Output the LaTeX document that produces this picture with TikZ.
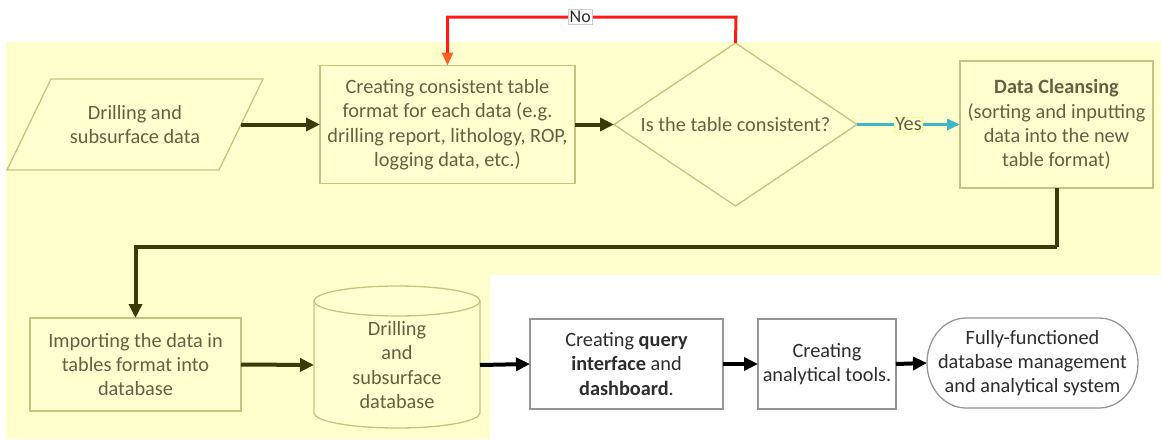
\documentclass[tikz,border=0pt]{standalone}
\usepackage{fontspec}
\setmainfont{Carlito}
\usetikzlibrary{arrows.meta,shapes.geometric}

\definecolor{bgyel}{RGB}{255,255,206}
\definecolor{shapeyel}{RGB}{255,255,208}
\definecolor{olivedge}{RGB}{196,196,128}
\definecolor{olivetext}{RGB}{98,98,66}
\definecolor{olivearrow}{RGB}{58,58,8}
\definecolor{greyedge}{RGB}{150,150,150}
\definecolor{darktext}{RGB}{45,45,45}
\definecolor{noline}{RGB}{255,25,25}
\definecolor{nohead}{RGB}{255,95,35}
\definecolor{yesline}{RGB}{62,184,200}
\definecolor{noedge}{RGB}{205,205,205}
\definecolor{yesedge}{RGB}{250,250,150}

\begin{document}
\begin{tikzpicture}[x=1pt,y=-1pt,
  every node/.style={font=\fontsize{20.3}{24.4}\selectfont, align=center,
                     inner sep=0pt, outer sep=0pt},
  ybox/.style={draw=olivedge, fill=shapeyel, line width=1.3pt, text=olivetext},
  wbox/.style={draw=greyedge, fill=white, line width=1.3pt, text=darktext},
  ytext/.style={text=olivetext},
  wtext/.style={text=darktext},
  flow/.style={draw=olivearrow, line width=4pt, -{Triangle[length=14pt,width=13pt]}},
  flowline/.style={draw=olivearrow, line width=4pt},
  blackflow/.style={draw=black, line width=4pt, -{Triangle[length=14pt,width=13pt]}},
  noarrow/.style={draw=noline, line width=3pt, -{Triangle[length=13pt,width=11pt,color=nohead]}},
  yesarrow/.style={draw=yesline, line width=3pt, -{Triangle[length=13pt,width=11pt]}},
  nolab/.style={draw=noedge, line width=0.8pt, fill=white, text=darktext, inner sep=1.5pt,
                font=\fontsize{18}{20}\selectfont},
  yeslab/.style={draw=yesedge, line width=0.8pt, fill=bgyel, text=olivetext, inner sep=1pt},
]
\useasboundingbox (0,0) rectangle (1161,439);

% pale yellow backdrop behind the first five steps
\fill[bgyel] (6,42) -- (1161,42) -- (1161,275) -- (490,275) -- (490,439) -- (6,439) -- cycle;

% input data (parallelogram)
\draw[ybox] (7,170) -- (51,79) -- (263,79) -- (219,170) -- cycle;
\node[ytext, minimum width=212, minimum height=91] (src) at (135,124.5)
  {Drilling and\\subsurface data};

% consistent table format
\node[ybox, minimum width=255, minimum height=118] (cre) at (447.5,124.5)
  {Creating consistent table\\format for each data (e.g.\\drilling report, lithology, ROP,\\logging data, etc.)};

% decision
\node[ybox, diamond, aspect=1.49, minimum width=243, minimum height=163] (dia) at (735.5,124.5)
  {Is the table consistent?};

% data cleansing
\node[ybox, minimum width=193, minimum height=127] (dcl) at (1056.5,124.5)
  {\textbf{Data Cleansing}\\(sorting and inputting\\data into the new\\table format)};

% import step
\node[ybox, minimum width=211, minimum height=93] (imp) at (135.5,364.5)
  {Importing the data in\\tables format into\\database};

% database (cylinder)
\draw[ybox] (314,301) -- (314,413)
  arc[start angle=180, end angle=0, x radius=83, y radius=15]
  -- (480,301)
  arc[start angle=0, end angle=-180, x radius=83, y radius=15] -- cycle;
\draw[draw=olivedge, line width=1.3pt] (314,301)
  arc[start angle=180, end angle=0, x radius=83, y radius=15];
\node[ytext, minimum width=166, minimum height=100] (cyl) at (397,365)
  {Drilling\\and\\subsurface\\database};

% query interface
\node[wbox, minimum width=193, minimum height=90] (qry) at (626.5,364)
  {Creating \textbf{query}\\\textbf{interface} and\\\textbf{dashboard}.};

% analytical tools
\node[wbox, minimum width=138, minimum height=90] (ana) at (827,364)
  {Creating\\analytical tools.};

% final system (terminal)
\draw[wbox] (966,318) -- (1099,318)
  arc[start angle=-90, end angle=90, x radius=39, y radius=45]
  -- (966,408)
  arc[start angle=90, end angle=270, x radius=39, y radius=45] -- cycle;
\node[wtext, minimum width=211, minimum height=90] (ful) at (1032.5,363)
  {Fully-functioned\\database management\\and analytical system};

% connectors
\draw[flow] (src.east) -- (cre.west);
\draw[flow] (cre.east) -- (dia.west);
\draw[yesarrow] (dia.east) -- node[yeslab] (yes) {Yes} (dcl.west);
\coordinate (nbend) at (736,17);
\draw[noarrow] (dia.north) -- (nbend) -| node[nolab, pos=0.27] (no) {No} (cre.north);
\coordinate (rbend) at (1056.5,247);
\draw[flowline] (dcl.south) -- (rbend);
\draw[flow] (rbend) -| (imp.north);
\draw[flow] (imp.east) -- (cyl.west);
\draw[blackflow] (cyl.east) -- (qry.west);
\draw[blackflow] (qry.east) -- (ana.west);
\draw[blackflow] (ana.east) -- (ful.west);
\end{tikzpicture}
\end{document}
